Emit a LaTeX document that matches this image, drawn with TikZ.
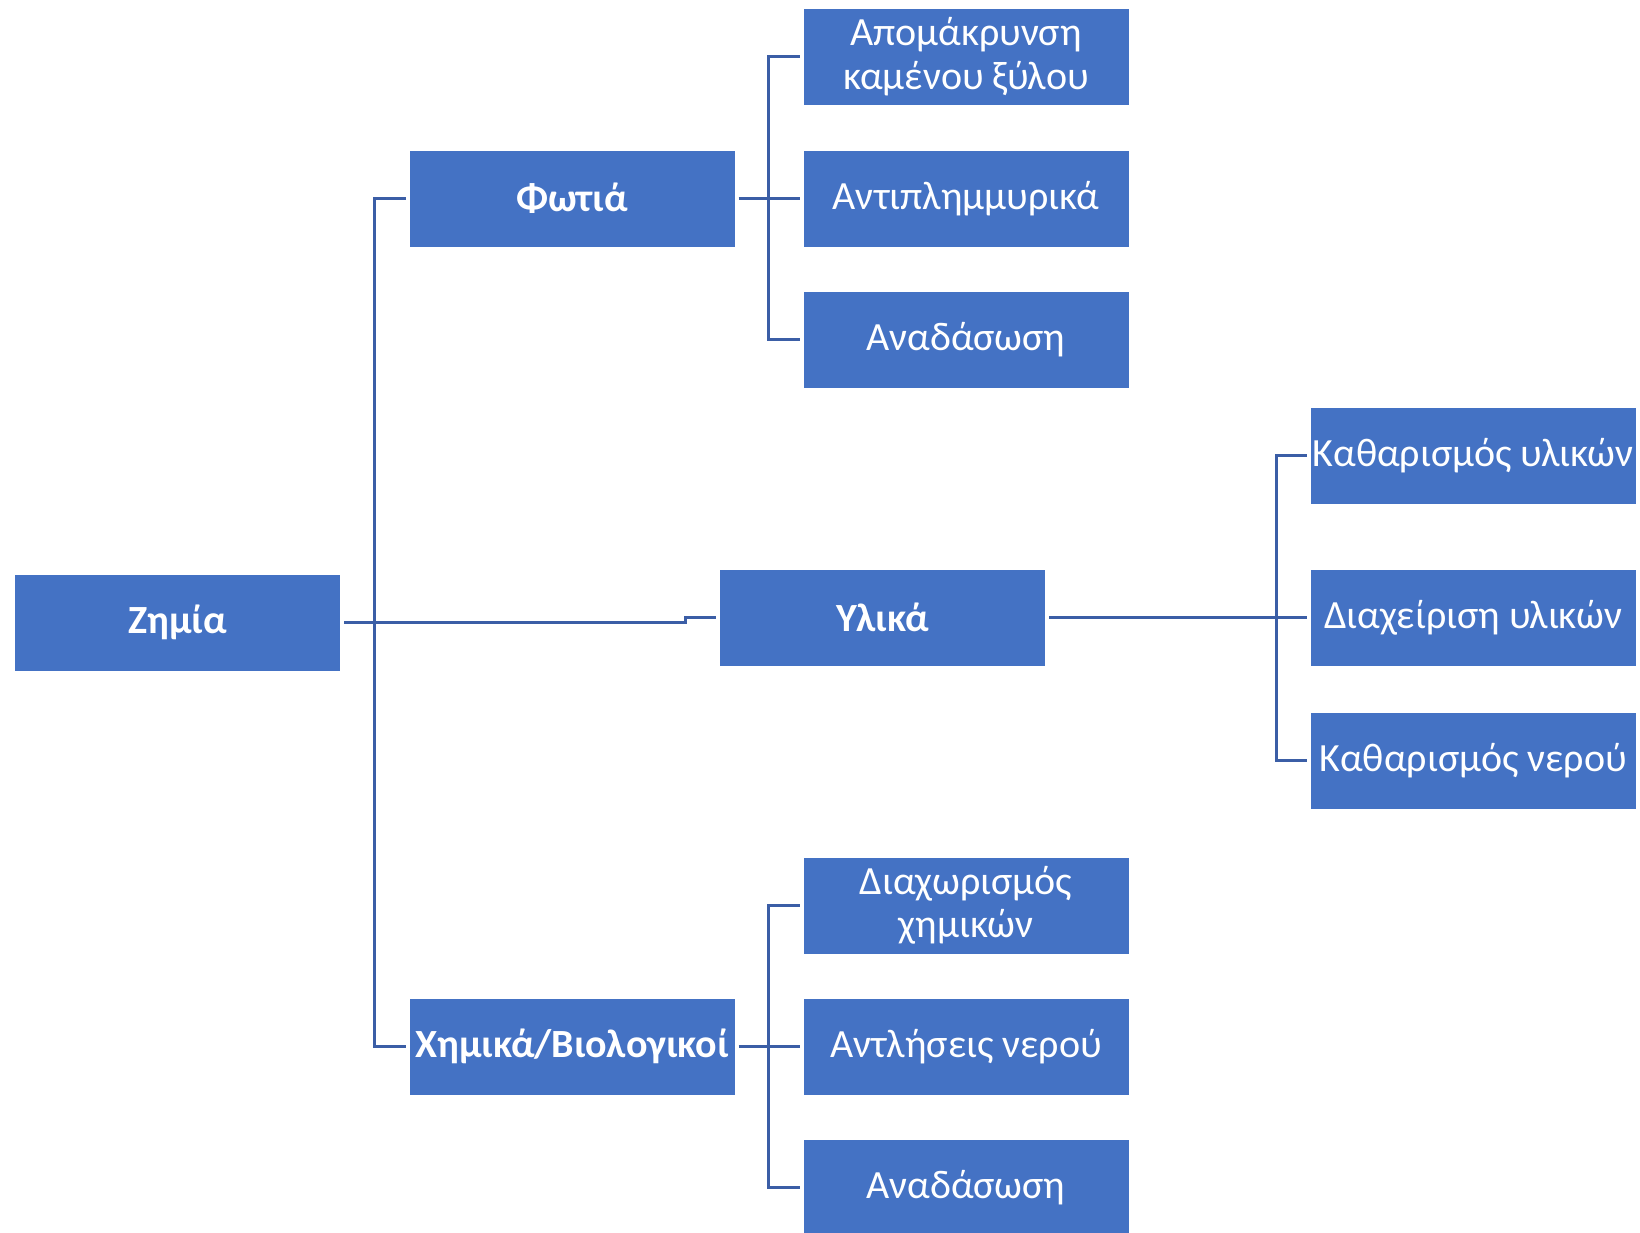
\documentclass[tikz,border=0pt]{standalone}
\usepackage{fontspec}
\setmainfont{Carlito}
\definecolor{boxblue}{HTML}{4472C4}
\definecolor{lineblue}{RGB}{59,94,166}
\begin{document}
\begin{tikzpicture}[x=1pt,y=-1pt,
  box/.style={draw=white, line width=1pt, fill=boxblue, minimum width=326pt, minimum height=97pt,
    inner sep=0pt, text=white, font=\fontsize{40}{43.5}\selectfont, align=center},
  bbox/.style={box, font=\fontsize{40}{43.5}\selectfont\bfseries},
  conn/.style={draw=lineblue, line width=3pt, line join=miter}]
\useasboundingbox (0,0) rectangle (1640,1232);
\node[bbox] (zem) at (177.5,622.5) {Ζημία};
\node[bbox] (fot) at (572,198.5) {Φωτιά};
\node[bbox] (yli) at (882.5,617.5) {Υλικά};
\node[bbox] (xim) at (572,1046.5) {Χημικά/Βιολογικοί};
\node[box] (a1) at (966,56.5) {Απομάκρυνση\\καμένου ξύλου};
\node[box] (a2) at (966,198.5) {Αντιπλημμυρικά};
\node[box] (a3) at (966,339.5) {Αναδάσωση};
\node[box] (b1) at (1473,455.5) {Καθαρισμός υλικών};
\node[box] (b2) at (1473,617.5) {Διαχείριση υλικών};
\node[box] (b3) at (1473,760.5) {Καθαρισμός νερού};
\node[box] (c1) at (966,905.5) {Διαχωρισμός\\χημικών};
\node[box] (c2) at (966,1046.5) {Αντλήσεις νερού};
\node[box] (c3) at (966,1187.5) {Αναδάσωση};
\coordinate (busA) at (374,0);
\coordinate (kink) at (685,0);
\coordinate (busF) at (768,0);
\coordinate (busY) at (1276,0);
% main level
\draw[conn] ([xshift=-3pt]fot.west) -- (fot.west -| busA) -- (xim.west -| busA) -- ([xshift=-3pt]xim.west);
\draw[conn] ([xshift=3pt]zem.east) -- (zem.east -| kink) -- (yli.west -| kink) -- ([xshift=-3pt]yli.west);
% fire
\draw[conn] ([xshift=-3pt]a1.west) -- (a1.west -| busF) -- (a3.west -| busF) -- ([xshift=-3pt]a3.west);
\draw[conn] ([xshift=3pt]fot.east) -- ([xshift=-3pt]a2.west);
% materials
\draw[conn] ([xshift=-3pt]b1.west) -- (b1.west -| busY) -- (b3.west -| busY) -- ([xshift=-3pt]b3.west);
\draw[conn] ([xshift=3pt]yli.east) -- ([xshift=-3pt]b2.west);
% chemicals
\draw[conn] ([xshift=-3pt]c1.west) -- (c1.west -| busF) -- (c3.west -| busF) -- ([xshift=-3pt]c3.west);
\draw[conn] ([xshift=3pt]xim.east) -- ([xshift=-3pt]c2.west);
\end{tikzpicture}
\end{document}
